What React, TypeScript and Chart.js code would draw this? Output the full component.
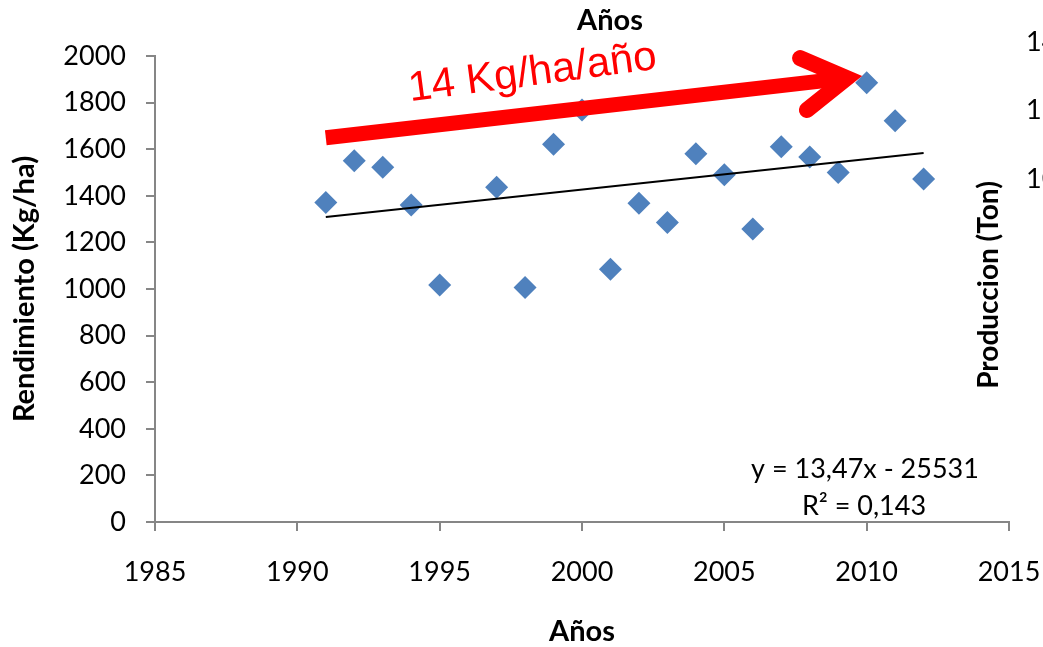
import React, { useEffect, useRef } from "react";
import { Chart, registerables } from "chart.js";

Chart.register(...registerables);

// ---- data ----
const years = [1991, 1992, 1993, 1994, 1995, 1997, 1998, 1999, 2000, 2001, 2002, 2003, 2004, 2005, 2006, 2007, 2008, 2009, 2010, 2011, 2012];
const yields = [1371, 1550, 1523, 1360, 1017, 1437, 1006, 1621, 1768, 1085, 1368, 1285, 1580, 1490, 1257, 1611, 1566, 1500, 1885, 1722, 1472];
const trendYears = [1991, 2012];
const trendValues = [1309, 1584];
const rightTickValues = [14000, 12000, 10000];
const rightAxisMax = 14000;
const equationLines = ["y = 13,47x - 25531", "R² = 0,143"];
const arrowLabel = "14 Kg/ha/año";
const xTitle = "Años";
const yTitle = "Rendimiento (Kg/ha)";
const rightTitle = "Produccion (Ton)";

// ---- styles ----
const BLUE = "#4F81BD";
const RED = "#FF0000";
const AXIS = "#868686";
const FONT = "Lato";
const ARROW_FONT = "'Liberation Sans', Arial, sans-serif";

// arrow annotation (data units: [year, value])
const arrowStart = [1991.0, 1649];
const arrowVertex = [2009.3, 1905];
const arrowUpper = [2007.66, 1991];
const arrowLower = [2007.9, 1768];

const overlayPlugin = {
  id: "overlay",
  afterDatasetsDraw(chart: any) {
    const { ctx, scales } = chart;
    const xs = scales.x;
    const ys = scales.y;
    const P = (p: number[]) => [xs.getPixelForValue(p[0]), ys.getPixelForValue(p[1])];
    const s = P(arrowStart);
    const v = P(arrowVertex);
    const u = P(arrowUpper);
    const l = P(arrowLower);
    ctx.save();
    ctx.strokeStyle = RED;
    ctx.lineWidth = 15;
    ctx.lineCap = "butt";
    ctx.beginPath();
    ctx.moveTo(s[0], s[1]);
    ctx.lineTo(v[0], v[1]);
    ctx.stroke();
    ctx.lineWidth = 16;
    ctx.lineCap = "round";
    ctx.lineJoin = "miter";
    ctx.miterLimit = 10;
    ctx.beginPath();
    ctx.moveTo(u[0], u[1]);
    ctx.lineTo(v[0], v[1]);
    ctx.lineTo(l[0], l[1]);
    ctx.stroke();

    // arrow label
    ctx.translate(534, 85);
    ctx.rotate((-7.5 * Math.PI) / 180);
    ctx.fillStyle = RED;
    ctx.font = `42px ${ARROW_FONT}`;
    ctx.textAlign = "center";
    ctx.textBaseline = "alphabetic";
    ctx.fillText(arrowLabel, 0, 0);
    ctx.restore();
  },
  afterDraw(chart: any) {
    const { ctx } = chart;
    ctx.save();
    ctx.fillStyle = "#000";
    // equation
    ctx.font = `27px ${FONT}`;
    ctx.textAlign = "center";
    ctx.textBaseline = "alphabetic";
    ctx.fillText(equationLines[0], 865, 478);
    ctx.fillText(equationLines[1], 864, 515);

    // top title
    ctx.font = `bold 29px ${FONT}`;
    ctx.textBaseline = "middle";
    ctx.fillText(xTitle, 610, 21);

    // right title
    ctx.save();
    ctx.font = `bold 28px ${FONT}`;
    ctx.translate(989, 285);
    ctx.rotate(-Math.PI / 2);
    ctx.fillText(rightTitle, 0, 0);
    ctx.restore();

    // right tick labels (cut off at the edge of the picture)
    ctx.font = `27px ${FONT}`;
    ctx.textAlign = "left";
    const top = 42;
    const bottom = 521;
    rightTickValues.forEach((val) => {
      ctx.fillText(String(val), 1026, bottom - ((bottom - top) * val) / rightAxisMax);
    });
    ctx.restore();
  },
};

export default function App() {
  const ref = useRef<HTMLCanvasElement | null>(null);
  useEffect(() => {
    if (!ref.current) return;
    const chart = new Chart(ref.current, {
      type: "scatter",
      data: {
        datasets: [
          {
            type: "line",
            label: "trend",
            data: trendYears.map((yr, i) => ({ x: yr, y: trendValues[i] })),
            borderColor: "#000",
            borderWidth: 2,
            pointRadius: 0,
            showLine: true,
            fill: false,
            order: 0,
          } as any,
          {
            label: "Rendimiento",
            data: years.map((yr, i) => ({ x: yr, y: yields[i] })),
            pointStyle: "rectRot",
            pointRadius: 11.5,
            pointHoverRadius: 11.5,
            backgroundColor: BLUE,
            borderColor: BLUE,
            borderWidth: 0,
            order: 1,
          },
        ],
      },
      options: {
        responsive: false,
        animation: false,
        devicePixelRatio: 1,
        layout: { padding: { top: 56, right: 34, left: 0, bottom: 0 } },
        plugins: { legend: { display: false }, tooltip: { enabled: false } },
        scales: {
          x: {
            type: "linear",
            min: 1985,
            max: 2015,
            afterFit: (s: any) => {
              s.height = 125;
              s.paddingLeft = 0;
              s.paddingRight = 0;
            },
            ticks: {
              stepSize: 5,
              padding: 25,
              color: "#000",
              font: { family: FONT, size: 27 },
              callback: (v: any) => String(v),
            },
            grid: { display: true, drawOnChartArea: false, drawTicks: true, tickLength: 9, color: AXIS, lineWidth: 2 },
            border: { display: true, color: AXIS, width: 2 },
            title: {
              display: true,
              text: xTitle,
              color: "#000",
              font: { family: FONT, size: 29, weight: "bold", lineHeight: 1.05 },
              padding: { top: 0, bottom: 0 },
            },
          },
          y: {
            type: "linear",
            min: 0,
            max: 2000,
            afterFit: (s: any) => {
              s.width = 155;
              s.paddingTop = 0;
              s.paddingBottom = 0;
            },
            ticks: {
              stepSize: 200,
              padding: 20,
              color: "#000",
              font: { family: FONT, size: 27 },
              callback: (v: any) => String(v),
            },
            grid: { display: true, drawOnChartArea: false, drawTicks: true, tickLength: 9, color: AXIS, lineWidth: 2 },
            border: { display: true, color: AXIS, width: 2 },
            title: {
              display: true,
              text: yTitle,
              color: "#000",
              font: { family: FONT, size: 29, weight: "bold" },
              padding: { top: 7, bottom: 0 },
            },
          },
        },
      },
      plugins: [overlayPlugin],
    });
    return () => chart.destroy();
  }, []);
  return (
    <div style={{ position: "absolute", left: 0, top: 0, width: 1043, height: 647, background: "#fff" }}>
      <canvas ref={ref} width={1043} height={647} style={{ display: "block", width: 1043, height: 647 }} />
    </div>
  );
}
